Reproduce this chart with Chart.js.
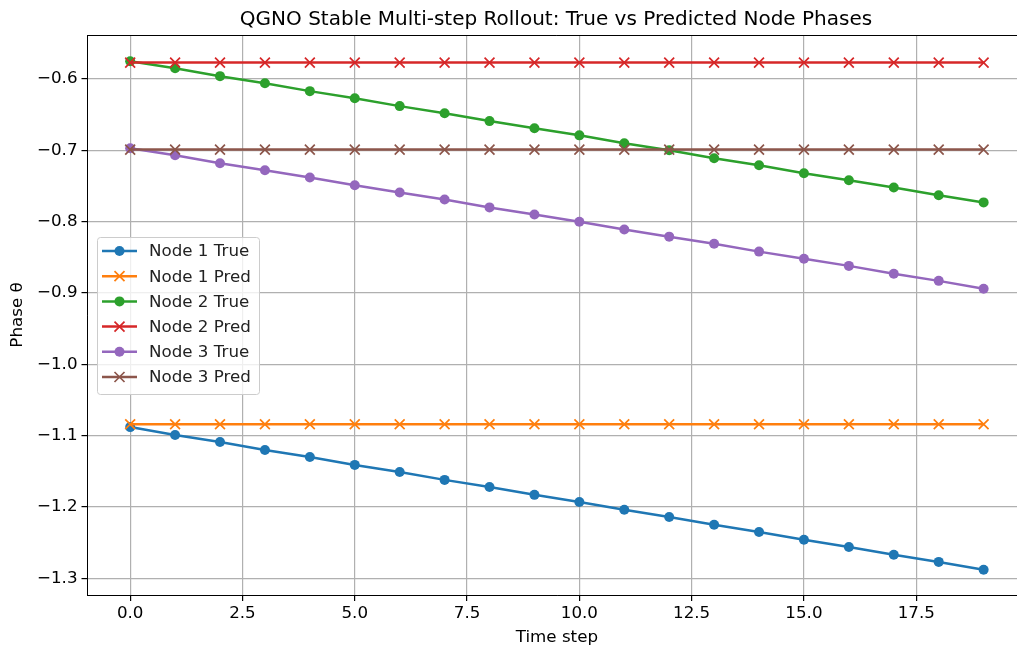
<!DOCTYPE html>
<html>
<head>
<meta charset="utf-8">
<script src="https://cdn.jsdelivr.net/npm/chart.js@4.4.1/dist/chart.umd.min.js"></script>
<style>
  html, body { margin: 0; padding: 0; background: #fff; overflow: hidden; }
  #wrap { width: 1035px; height: 645px; }
</style>
</head>
<body>
<div id="wrap"><canvas id="myChart"></canvas></div>
<script>
// dados
var steps = [0,1,2,3,4,5,6,7,8,9,10,11,12,13,14,15,16,17,18,19];
var node1True = [-1.088,-1.099,-1.109,-1.120,-1.130,-1.141,-1.151,-1.162,-1.172,-1.183,-1.193,-1.204,-1.214,-1.225,-1.235,-1.246,-1.256,-1.267,-1.277,-1.288];
var node1Pred = [-1.084,-1.084,-1.084,-1.084,-1.084,-1.084,-1.084,-1.084,-1.084,-1.084,-1.084,-1.084,-1.084,-1.084,-1.084,-1.084,-1.084,-1.084,-1.084,-1.084];
var node2True = [-0.575,-0.585,-0.596,-0.606,-0.617,-0.627,-0.638,-0.648,-0.659,-0.669,-0.679,-0.690,-0.700,-0.711,-0.721,-0.732,-0.742,-0.752,-0.763,-0.773];
var node2Pred = [-0.577,-0.577,-0.577,-0.577,-0.577,-0.577,-0.577,-0.577,-0.577,-0.577,-0.577,-0.577,-0.577,-0.577,-0.577,-0.577,-0.577,-0.577,-0.577,-0.577];
var node3True = [-0.697,-0.707,-0.718,-0.728,-0.738,-0.749,-0.759,-0.769,-0.780,-0.790,-0.800,-0.811,-0.821,-0.831,-0.842,-0.852,-0.862,-0.873,-0.883,-0.894];
var node3Pred = [-0.699,-0.699,-0.699,-0.699,-0.699,-0.699,-0.699,-0.699,-0.699,-0.699,-0.699,-0.699,-0.699,-0.699,-0.699,-0.699,-0.699,-0.699,-0.699,-0.699];
var xTicks = [0, 2.5, 5, 7.5, 10, 12.5, 15, 17.5];
var yTicks = [-1.3, -1.2, -1.1, -1.0, -0.9, -0.8, -0.7, -0.6];

var FONT = "'DejaVu Sans', sans-serif";
var series = [
    { label: 'Node 1 True', values: node1True, color: '#1f77b4', marker: 'circle' },
    { label: 'Node 1 Pred', values: node1Pred, color: '#ff7f0e', marker: 'crossRot' },
    { label: 'Node 2 True', values: node2True, color: '#2ca02c', marker: 'circle' },
    { label: 'Node 2 Pred', values: node2Pred, color: '#d62728', marker: 'crossRot' },
    { label: 'Node 3 True', values: node3True, color: '#9467bd', marker: 'circle' },
    { label: 'Node 3 Pred', values: node3Pred, color: '#8c564b', marker: 'crossRot' }
];

function fmt(v) {
    var s = Math.abs(v).toFixed(1);
    return (v < 0 ? '\u2212' : '') + s;
}

var datasets = series.map(function (s, i) {
    return {
        label: s.label,
        data: steps.map(function (x, j) { return { x: x, y: s.values[j] }; }),
        borderColor: s.color,
        backgroundColor: s.color,
        borderWidth: 2.5,
        pointStyle: s.marker,
        pointRadius: s.marker === 'circle' ? 5 : 7,
        pointBorderWidth: s.marker === 'circle' ? 0 : 1.7,
        pointHoverRadius: 5,
        order: 5 - i
    };
});

// titulo, borda de cima e legenda
var extras = {
    id: 'extras',
    afterDraw: function (chart) {
        var ctx = chart.ctx;
        var a = chart.chartArea;
        ctx.save();
        ctx.strokeStyle = '#000';
        ctx.lineWidth = 1;
        ctx.beginPath();
        ctx.moveTo(a.left, a.top + 0.5);
        ctx.lineTo(a.right, a.top + 0.5);
        ctx.stroke();

        ctx.fillStyle = '#000';
        ctx.font = '20px ' + FONT;
        ctx.textAlign = 'center';
        ctx.textBaseline = 'alphabetic';
        ctx.fillText('QGNO Stable Multi-step Rollout: True vs Predicted Node Phases', 556, 25);

        // legenda
        var bx = 97, by = 237, bw = 162, bh = 157;
        ctx.fillStyle = 'rgba(255,255,255,0.8)';
        ctx.strokeStyle = '#cccccc';
        ctx.lineWidth = 1;
        ctx.beginPath();
        ctx.roundRect(bx + 0.5, by + 0.5, bw, bh, 3);
        ctx.fill();
        ctx.stroke();
        ctx.font = '16.7px ' + FONT;
        ctx.textAlign = 'left';
        ctx.textBaseline = 'middle';
        series.forEach(function (s, i) {
            var y = 251 + i * 25.2;
            ctx.strokeStyle = s.color;
            ctx.fillStyle = s.color;
            ctx.lineWidth = 2.5;
            ctx.beginPath();
            ctx.moveTo(102, y);
            ctx.lineTo(137, y);
            ctx.stroke();
            if (s.marker === 'circle') {
                ctx.beginPath();
                ctx.arc(119.5, y, 5, 0, Math.PI * 2);
                ctx.fill();
            } else {
                ctx.lineWidth = 1.7;
                ctx.beginPath();
                ctx.moveTo(114.5, y - 5); ctx.lineTo(124.5, y + 5);
                ctx.moveTo(114.5, y + 5); ctx.lineTo(124.5, y - 5);
                ctx.stroke();
            }
            ctx.fillStyle = '#222';
            ctx.fillText(s.label, 149, y + 1);
        });
        ctx.restore();
    }
};

const config = {
    type: 'line',
    data: { datasets: datasets },
    options: {
        responsive: true,
        maintainAspectRatio: false,
        animation: false,
        layout: { padding: { top: 35, right: 0, left: 0, bottom: 0 } },
        plugins: {
            legend: { display: false },
            title: { display: false },
            tooltip: { enabled: false }
        },
        scales: {
            x: {
                type: 'linear',
                min: -0.95,
                max: 19.95,
                afterBuildTicks: function (axis) { axis.ticks = xTicks.map(function (v) { return { value: v }; }); },
                afterFit: function (axis) { axis.height = 50; },
                ticks: {
                    font: { family: FONT, size: 16.7 },
                    color: '#000',
                    padding: 3,
                    maxRotation: 0,
                    autoSkip: false,
                    callback: function (v) { return fmt(v); }
                },
                grid: { color: '#b0b0b0', lineWidth: 1.2, tickColor: '#000', tickLength: 6 },
                border: { color: '#000', width: 1 },
                title: {
                    display: true,
                    text: 'Time step',
                    font: { family: FONT, size: 16.7 },
                    color: '#000',
                    padding: { top: 0, bottom: -3 }
                }
            },
            y: {
                type: 'linear',
                min: -1.3234,
                max: -0.5383,
                afterBuildTicks: function (axis) { axis.ticks = yTicks.map(function (v) { return { value: v }; }); },
                afterFit: function (axis) { axis.width = 87.5; },
                ticks: {
                    font: { family: FONT, size: 16.7 },
                    color: '#000',
                    padding: 4,
                    autoSkip: false,
                    callback: function (v) { return fmt(v); }
                },
                grid: { color: '#b0b0b0', lineWidth: 1.2, tickColor: '#000', tickLength: 6 },
                border: { color: '#000', width: 1 },
                title: {
                    display: true,
                    text: 'Phase θ',
                    font: { family: FONT, size: 16.7 },
                    color: '#000',
                    padding: { top: 8, bottom: 0 }
                }
            }
        }
    },
    plugins: [extras]
};

const myChart = new Chart(document.getElementById('myChart'), config);
</script>
</body>
</html>
